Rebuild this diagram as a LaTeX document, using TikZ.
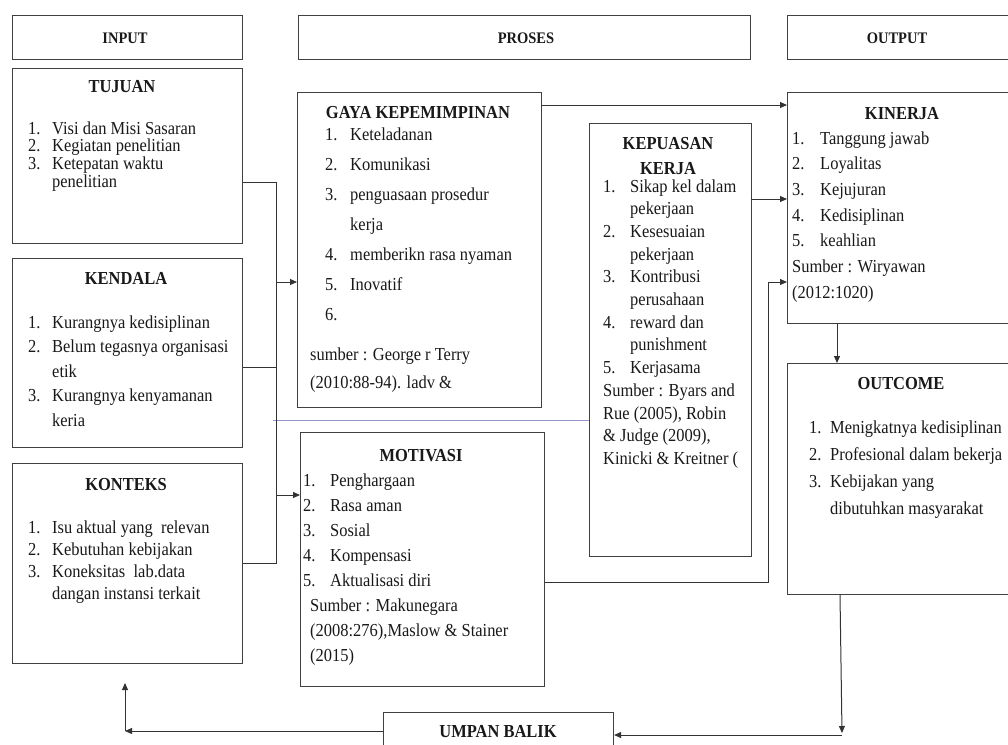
\documentclass[tikz,border=0pt]{standalone}
\usepackage{fontspec}
\setmainfont[FakeStretch=0.9]{Liberation Serif}
\usetikzlibrary{arrows.meta}
\newlength{\nw}
\newcommand{\nm}[1]{\makebox[\nw][l]{#1}}
\newcommand{\lst}[3]{\setlength{\nw}{#2}\fontsize{18.3}{#1}\selectfont\begin{tabular}[t]{@{}l@{}}#3\end{tabular}}
\definecolor{lav}{RGB}{150,150,200}
\begin{document}
\begin{tikzpicture}[x=1pt,y=-1pt,
  bx/.style={draw=black!75,line width=1.1pt,fill=white,inner sep=0pt,anchor=north west},
  txt/.style={inner sep=0pt,text=black!90,anchor=base west},
  ttl/.style={inner sep=0pt,text=black!90,anchor=base,font=\bfseries\fontsize{18.3}{26}\selectfont},
  hdr/.style={inner sep=0pt,text=black!90,anchor=base,font=\bfseries\fontsize{16.1}{20}\selectfont},
  con/.style={draw=black!80,line width=1pt},
  arr/.style={con,-{Triangle[length=7pt,width=6pt]}}]
\useasboundingbox[fill=white] (0,0) rectangle (1008,744);

% header boxes
\node[bx,minimum width=230pt,minimum height=44pt] (input) at (12,15) {};
\node[bx,minimum width=452pt,minimum height=44pt] (proses) at (298,15) {};
\node[bx,minimum width=230pt,minimum height=44pt] (output) at (787,15) {};
\node[hdr] (inputT) at (125,43) {INPUT};
\node[hdr] (prosesT) at (526,43) {PROSES};
\node[hdr] (outputT) at (897,43) {OUTPUT};

% input boxes
\node[bx,minimum width=230pt,minimum height=175pt] (tujuan) at (12,68) {};
\node[ttl] (tujuanT) at (122,92) {TUJUAN};
\node[txt] (tujuanL) at (28,134) {\lst{17.5pt}{24pt}{\nm{1.}Visi dan Misi Sasaran\\ \nm{2.}Kegiatan penelitian\\ \nm{3.}Ketepatan waktu\\ \nm{}penelitian}};

\node[bx,minimum width=230pt,minimum height=189pt] (kendala) at (12,258) {};
\node[ttl] (kendalaT) at (126,284) {KENDALA};
\node[txt] (kendalaL) at (28,328) {\lst{24.5pt}{24pt}{\nm{1.}Kurangnya kedisiplinan\\ \nm{2.}Belum tegasnya organisasi\\ \nm{}etik\\ \nm{3.}Kurangnya kenyamanan\\ \nm{}keria}};

\node[bx,minimum width=230pt,minimum height=200pt] (konteks) at (12,463) {};
\node[ttl] (konteksT) at (126,490) {KONTEKS};
\node[txt] (konteksL) at (28,533) {\lst{22pt}{24pt}{\nm{1.}Isu aktual yang\ \ relevan\\ \nm{2.}Kebutuhan kebijakan\\ \nm{3.}Koneksitas\ \ lab.data\\ \nm{}dangan instansi terkait}};

% proses boxes
\node[bx,minimum width=244pt,minimum height=315pt] (gaya) at (297,92) {};
\node[ttl] (gayaT) at (418,118) {GAYA KEPEMIMPINAN};
\node[txt] (gayaL) at (325,140) {\lst{30pt}{25pt}{\nm{1.}Keteladanan\\ \nm{2.}Komunikasi\\ \nm{3.}penguasaan prosedur\\ \nm{}kerja\\ \nm{4.}memberikn rasa nyaman\\ \nm{5.}Inovatif\\ \nm{6.}}};
\node[txt] (gayaS) at (310,360) {\lst{28pt}{0pt}{sumber : George r Terry\\ (2010:88-94). ladv \&}};

\node[bx,minimum width=244pt,minimum height=254pt] (motivasi) at (300,432) {};
\node[ttl] (motivasiT) at (421,461) {MOTIVASI};
\node[txt] (motivasiL) at (303,486) {\lst{25pt}{27pt}{\nm{1.}Penghargaan\\ \nm{2.}Rasa aman\\ \nm{3.}Sosial\\ \nm{4.}Kompensasi\\ \nm{5.}Aktualisasi diri}};
\node[txt] (motivasiS) at (310,611) {\lst{25pt}{0pt}{Sumber : Makunegara\\ (2008:276),Maslow \& Stainer\\ (2015)}};

\node[bx,minimum width=162pt,minimum height=433pt] (kepuasan) at (589,123) {};
\node[ttl,anchor=base] (kepuasanT) at (668,149) {\begin{tabular}[t]{@{}c@{}}KEPUASAN\\[-1pt] KERJA\end{tabular}};
\node[txt] (kepuasanL) at (603,192) {\lst{22.7pt}{27pt}{\nm{1.}Sikap kel dalam\\ \nm{}pekerjaan\\ \nm{2.}Kesesuaian\\ \nm{}pekerjaan\\ \nm{3.}Kontribusi\\ \nm{}perusahaan\\ \nm{4.}reward dan\\ \nm{}punishment\\ \nm{5.}Kerjasama\\ Sumber : Byars and\\ Rue (2005), Robin\\ \& Judge (2009),\\ Kinicki \& Kreitner (}};

% output boxes
\node[bx,minimum width=230pt,minimum height=231pt] (kinerja) at (787,92) {};
\node[ttl] (kinerjaT) at (902,119) {KINERJA};
\node[txt] (kinerjaL) at (792,144) {\lst{25.7pt}{28pt}{\nm{1.}Tanggung jawab\\ \nm{2.}Loyalitas\\ \nm{3.}Kejujuran\\ \nm{4.}Kedisiplinan\\ \nm{5.}keahlian\\ Sumber : Wiryawan\\ (2012:1020)}};

\node[bx,minimum width=230pt,minimum height=231pt] (outcome) at (787,363) {};
\node[ttl] (outcomeT) at (901,389) {OUTCOME};
\node[txt] (outcomeL) at (809,433) {\lst{27pt}{21pt}{\nm{1.}Menigkatnya kedisiplinan\\ \nm{2.}Profesional dalam bekerja\\ \nm{3.}Kebijakan yang\\ \nm{}dibutuhkan masyarakat}};

\node[bx,minimum width=230pt,minimum height=40pt] (umpan) at (383,712) {};
\node[ttl] (umpanT) at (498,737) {UMPAN BALIK};

% connector points
\coordinate (b1) at (276,182);
\coordinate (b2) at (276,367);
\coordinate (b3) at (276,563);
\coordinate (b4) at (276,282);
\coordinate (b5) at (276,495);
\coordinate (lv) at (273,420);
\coordinate (g1) at (541,105);
\coordinate (k1) at (751,199);
\coordinate (m1) at (768,582);
\coordinate (m2) at (768,282);
\coordinate (o1) at (837,323);
\coordinate (o4) at (840,594);
\coordinate (o2) at (842,733);
\coordinate (o3) at (842,735);
\coordinate (f1) at (125,731);
\coordinate (f2) at (125,683);

\draw[lav,line width=1pt] (lv) -- (lv -| kepuasan.west);
\draw[con] (b1 -| tujuan.east) -- (b1) -- (b3) -- (b3 -| konteks.east);
\draw[con] (b2 -| kendala.east) -- (b2);
\draw[arr] (b4) -- (b4 -| gaya.west);
\draw[arr] (b5) -- (b5 -| motivasi.west);
\draw[arr] (g1) -- (g1 -| kinerja.west);
\draw[arr] (k1) -- (k1 -| kinerja.west);
\draw[arr] (m1 -| motivasi.east) -- (m1) -- (m2) -- (m2 -| kinerja.west);
\draw[arr] (o1) -- (o1 |- outcome.north);
\draw[arr] (o4 |- outcome.south) -- (o2);
\draw[arr] (o3) -- (o3 -| umpan.east);
\draw[arr] (f1 -| umpan.west) -- (f1);
\draw[arr] (f1) -- (f2);
\end{tikzpicture}
\end{document}
